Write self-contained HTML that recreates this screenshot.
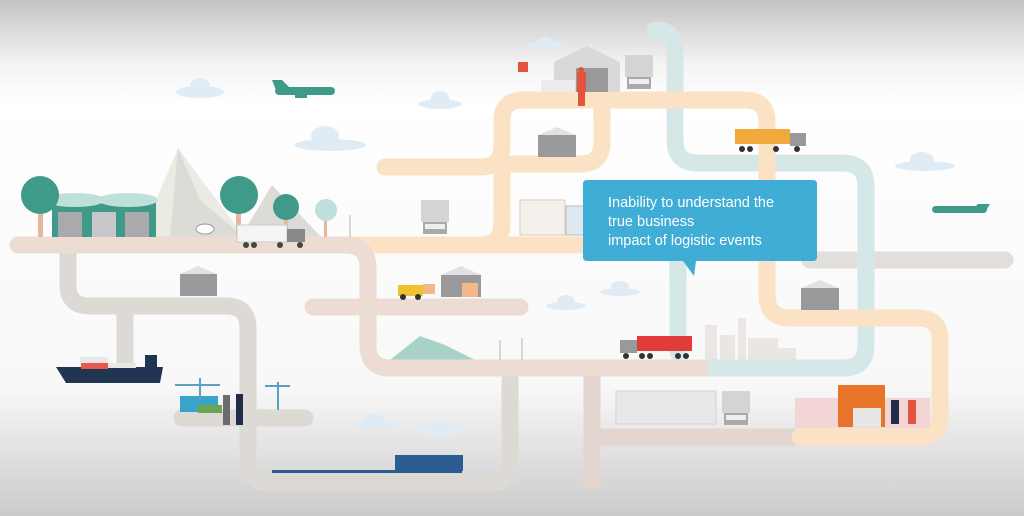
<!DOCTYPE html>
<html><head><meta charset="utf-8"><style>
html,body{margin:0;padding:0;width:1024px;height:516px;overflow:hidden}
svg{display:block}
</style></head><body>
<svg width="1024" height="516" viewBox="0 0 1024 516" xmlns="http://www.w3.org/2000/svg">
<defs>
<linearGradient id="bg" x1="0" y1="0" x2="0" y2="1">
<stop offset="0" stop-color="#c4c4c4"/><stop offset="0.12" stop-color="#f2f2f2"/><stop offset="0.2" stop-color="#fff"/>
<stop offset="0.75" stop-color="#f8f8f8"/><stop offset="1" stop-color="#cbcbcb"/>
</linearGradient>
</defs>
<rect width="1024" height="516" fill="url(#bg)"/>
<!-- clouds -->
<g fill="#e0ecf5">
<ellipse cx="200" cy="92" rx="24" ry="6"/><ellipse cx="200" cy="86" rx="10" ry="8"/>
<ellipse cx="330" cy="145" rx="36" ry="6"/><ellipse cx="325" cy="136" rx="14" ry="10"/>
<ellipse cx="440" cy="104" rx="22" ry="5"/><ellipse cx="440" cy="98" rx="9" ry="7"/>
<ellipse cx="545" cy="46" rx="18" ry="4"/><ellipse cx="545" cy="42" rx="8" ry="5"/>
<ellipse cx="925" cy="166" rx="30" ry="5"/><ellipse cx="922" cy="160" rx="12" ry="8"/>
<ellipse cx="620" cy="292" rx="20" ry="4"/><ellipse cx="620" cy="287" rx="9" ry="6"/>
<ellipse cx="566" cy="306" rx="20" ry="4"/><ellipse cx="566" cy="301" rx="9" ry="6"/>
<ellipse cx="375" cy="424" rx="20" ry="4"/><ellipse cx="375" cy="419" rx="9" ry="6"/>
<ellipse cx="440" cy="431" rx="20" ry="4"/><ellipse cx="440" cy="426" rx="9" ry="6"/>
</g>
<!-- mountains -->
<polygon points="140,238 178,148 245,238" fill="#ecebe3"/>
<polygon points="178,148 200,200 245,238 170,238" fill="#dcdbd5"/>
<polygon points="240,238 272,185 322,238" fill="#dcdbd5"/>
<polygon points="390,360 420,336 445,345 475,360" fill="#a8d2c8"/>
<!-- city -->
<g fill="#ebe6e3"><rect x="705" y="325" width="12" height="35"/><rect x="720" y="335" width="15" height="25"/><rect x="738" y="318" width="8" height="42"/><rect x="748" y="338" width="30" height="22"/><rect x="776" y="348" width="20" height="12"/></g>
<!-- roads -->
<g fill="none" stroke-width="17" stroke-linecap="round" stroke-linejoin="round">
<path d="M810,260 H1005" stroke="#e2dfdb"/>
<path d="M68,245 V285 Q68,306 90,306 H226 Q248,306 248,328 V462 Q248,483 270,483 H488 Q510,483 510,462 V380" stroke="#dddad6"/>
<path d="M125,306 V362" stroke="#dddad6"/>
<path d="M182,418 H305" stroke="#dddad6"/>
<path d="M592,372 V480 M592,437 H800" stroke="#e3d6cf"/>
<path d="M655,30 Q675,30 675,50 V140 Q675,163 698,163 H842 Q866,163 866,186 V345 Q866,368 843,368 H700" stroke="#d6e7e7"/>
<path d="M678,262 V352" stroke="#d6e7e7"/>
<path d="M385,167 H480 Q502,167 502,145 V120 Q502,100 524,100 H745 Q767,100 767,122 V295 Q767,318 790,318 H918 Q940,318 940,340 V416 Q940,437 918,437 H800" stroke="#fbe2c4"/>
<path d="M602,100 V142 Q602,164 580,164 H500" stroke="#fbe2c4"/>
<path d="M350,245 H480 Q502,245 502,223 V160" stroke="#fbe2c4"/>
<path d="M350,245 H585" stroke="#fbe2c4"/>
<path d="M18,245 H345 Q368,245 368,268 V345 Q368,368 390,368 H700" stroke="#ecdcd3"/>
<path d="M313,307 H520" stroke="#ecdcd3"/>
</g>
<!-- left warehouse + trees -->
<rect x="52" y="200" width="104" height="37" fill="#3f9a8a"/>
<ellipse cx="75" cy="200" rx="30" ry="7" fill="#bfe0da"/><ellipse cx="128" cy="200" rx="30" ry="7" fill="#bfe0da"/>
<rect x="58" y="212" width="24" height="25" fill="#a9a9ae"/><rect x="92" y="212" width="24" height="25" fill="#c8c8cc"/><rect x="125" y="212" width="24" height="25" fill="#a9a9ae"/>
<rect x="38" y="210" width="5" height="27" fill="#e6b79e"/><circle cx="40" cy="195" r="19" fill="#3f9a8a"/>
<rect x="236" y="208" width="5" height="29" fill="#e6b79e"/><circle cx="239" cy="195" r="19" fill="#3f9a8a"/>
<rect x="284" y="214" width="4" height="23" fill="#e6b79e"/><circle cx="286" cy="207" r="13" fill="#3f9a8a"/>
<rect x="324" y="218" width="3" height="19" fill="#e6b79e"/><circle cx="326" cy="210" r="11" fill="#bfe0da"/>
<ellipse cx="205" cy="229" rx="9" ry="5" fill="#fff" stroke="#999" stroke-width="1"/>
<!-- truck left -->
<rect x="237" y="225" width="50" height="17" fill="#f4f4f4" stroke="#ccc"/><rect x="287" y="229" width="18" height="13" fill="#888"/>
<g fill="#444"><circle cx="246" cy="245" r="3"/><circle cx="254" cy="245" r="3"/><circle cx="280" cy="245" r="3"/><circle cx="300" cy="245" r="3"/></g>
<!-- plane -->
<g fill="#3f9a8a"><rect x="275" y="87" width="60" height="8" rx="4"/><polygon points="272,80 282,80 290,88 276,90"/><rect x="295" y="95" width="12" height="3"/></g>
<g fill="#3f9a8a"><rect x="932" y="206" width="55" height="7" rx="3.5"/><polygon points="990,204 978,204 972,210 985,212"/></g>
<!-- warehouses grey -->
<g fill="#9a9a9c"><rect x="180" y="274" width="37" height="22"/><rect x="538" y="135" width="38" height="22"/><rect x="801" y="288" width="38" height="22"/><rect x="441" y="275" width="40" height="22"/></g>
<g fill="#e2e2e3"><polygon points="180,274 198,266 217,274"/><polygon points="538,135 557,127 576,135"/><polygon points="801,288 820,280 839,288"/><polygon points="441,275 461,266 481,275"/></g>
<rect x="462" y="283" width="16" height="14" fill="#f2b88a"/>
<!-- forklift -->
<rect x="398" y="285" width="25" height="11" fill="#f2c12e"/><rect x="423" y="284" width="12" height="10" fill="#f2b88a"/>
<circle cx="403" cy="297" r="3" fill="#333"/><circle cx="418" cy="297" r="3" fill="#333"/>
<!-- front trucks -->
<g><rect x="421" y="200" width="28" height="22" fill="#d4d4d4"/><rect x="423" y="222" width="24" height="12" fill="#aaa"/><rect x="425" y="224" width="20" height="5" fill="#eee"/></g>
<g><rect x="625" y="55" width="28" height="22" fill="#d4d4d4"/><rect x="627" y="77" width="24" height="12" fill="#aaa"/><rect x="629" y="79" width="20" height="5" fill="#eee"/></g>
<g><rect x="722" y="391" width="28" height="22" fill="#d4d4d4"/><rect x="724" y="413" width="24" height="12" fill="#aaa"/><rect x="726" y="415" width="20" height="5" fill="#eee"/></g>
<!-- top warehouse -->
<polygon points="554,62 587,46 620,62 620,92 554,92" fill="#d9d9db"/><rect x="576" y="68" width="32" height="24" fill="#999"/>
<rect x="541" y="80" width="34" height="12" fill="#ececec"/>
<rect x="518" y="62" width="10" height="10" fill="#e4533d"/>
<rect x="577" y="72" width="9" height="20" fill="#e4533d"/><circle cx="581" cy="70" r="3" fill="#e4533d"/><rect x="578" y="92" width="7" height="14" fill="#e4533d"/>
<!-- orange truck -->
<rect x="735" y="129" width="55" height="15" fill="#f2a93b"/><rect x="790" y="133" width="16" height="13" fill="#999"/>
<g fill="#333"><circle cx="742" cy="149" r="3"/><circle cx="750" cy="149" r="3"/><circle cx="776" cy="149" r="3"/><circle cx="797" cy="149" r="3"/></g>
<!-- red truck -->
<rect x="637" y="336" width="55" height="15" fill="#e23c3a"/><rect x="620" y="340" width="17" height="13" fill="#999"/>
<g fill="#333"><circle cx="626" cy="356" r="3"/><circle cx="642" cy="356" r="3"/><circle cx="650" cy="356" r="3"/><circle cx="678" cy="356" r="3"/><circle cx="686" cy="356" r="3"/></g>
<!-- shelves -->
<rect x="520" y="200" width="45" height="35" fill="#f4f0ec" stroke="#e8c9b5"/><rect x="566" y="206" width="18" height="29" fill="#dfe9f0" stroke="#bbb"/>
<!-- warehouse bottom -->
<rect x="616" y="391" width="100" height="33" fill="#e8e8ea" stroke="#d2d2d4"/>
<!-- market -->
<rect x="795" y="398" width="135" height="30" fill="#f3d5d5"/>
<rect x="838" y="385" width="47" height="42" fill="#e8742a"/><rect x="853" y="408" width="28" height="19" fill="#e6e6e6"/>
<rect x="891" y="400" width="8" height="24" fill="#1f2d4a"/><rect x="908" y="400" width="8" height="24" fill="#e4533d"/>
<!-- ship -->
<polygon points="56,367 163,367 160,383 66,383" fill="#1f3552"/>
<rect x="80" y="357" width="28" height="6" fill="#e8e8e6"/><rect x="81" y="363" width="27" height="6" fill="#e8594c"/><rect x="108" y="363" width="28" height="5" fill="#e8e8e6"/><rect x="145" y="355" width="12" height="12" fill="#1f3552"/>
<!-- port -->
<rect x="180" y="396" width="38" height="16" fill="#3aa3c8"/><rect x="198" y="405" width="24" height="8" fill="#6aa552"/>
<path d="M175,385 H220 M200,378 V400 M265,386 H290 M278,382 V410" stroke="#5aa0c0" stroke-width="2"/>
<rect x="223" y="395" width="7" height="30" fill="#6b6b6b"/><rect x="236" y="394" width="7" height="31" fill="#1f2d4a"/>
<!-- train -->
<rect x="395" y="455" width="68" height="16" fill="#2b5d92"/>
<rect x="277" y="458" width="50" height="12" fill="#dcdcdc"/><rect x="339" y="458" width="50" height="12" fill="#dcdcdc"/>
<rect x="272" y="470" width="190" height="3" fill="#2b5d92"/>
<!-- turbines -->
<path d="M350,237 V215 M500,360 V340 M522,360 V338" stroke="#ccc" stroke-width="1.5"/>
<!-- callout -->
<path d="M587,180 H813 Q817,180 817,184 V257 Q817,261 813,261 H696 L694,276 L683,261 H587 Q583,261 583,257 V184 Q583,180 587,180 Z" fill="#3fadd5"/>
<g font-family="Liberation Sans, sans-serif" font-size="14.5" fill="#fff">
<text x="608" y="207">Inability to understand the</text>
<text x="608" y="226">true business</text>
<text x="608" y="245">impact of logistic events</text>
</g>
</svg>
</body></html>
